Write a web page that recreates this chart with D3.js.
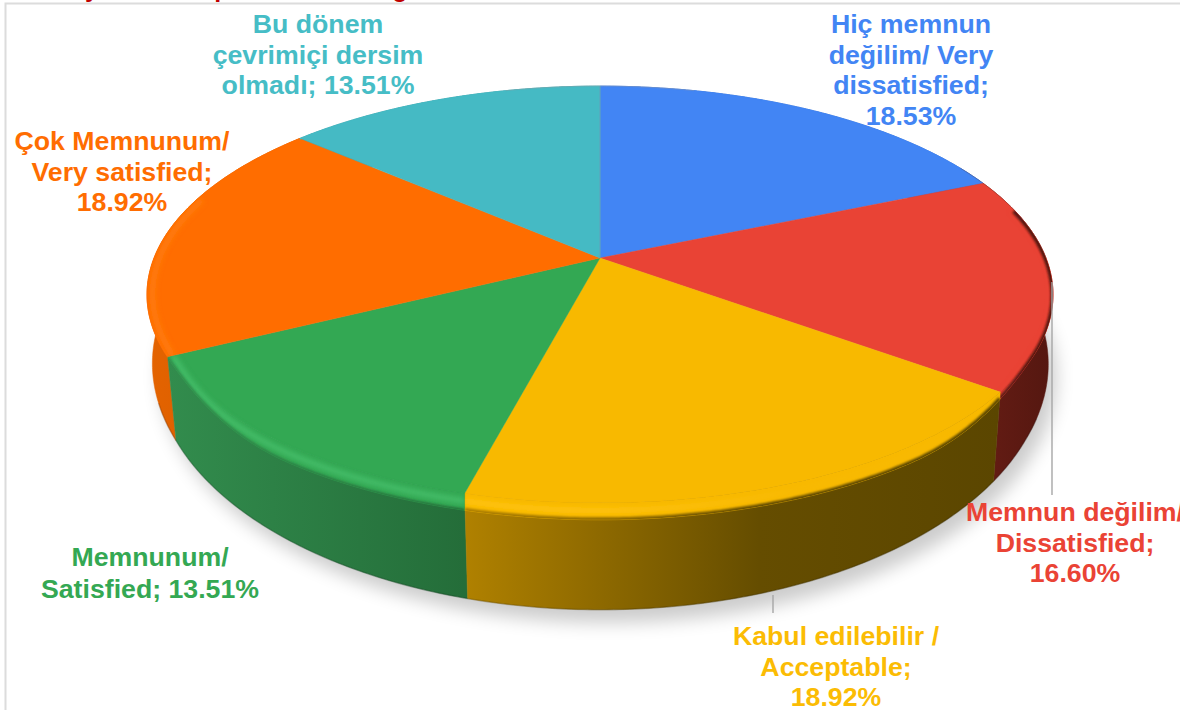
<!DOCTYPE html>
<html><head><meta charset="utf-8">
<script src="https://cdn.jsdelivr.net/npm/d3@7/dist/d3.min.js"></script>
<style>html,body{margin:0;padding:0;background:#fff;overflow:hidden}svg{display:block}text{font-family:"Liberation Sans",Arial,sans-serif;font-weight:700}</style>
</head><body><svg id="c" width="1180" height="710"></svg>
<script>
const categories = ["Hiç memnun değilim/ Very dissatisfied","Memnun değilim/ Dissatisfied","Kabul edilebilir / Acceptable","Memnunum/ Satisfied","Çok Memnunum/ Very satisfied","Bu dönem çevrimiçi dersim olmadı"];
const values = [18.53,16.60,18.92,13.51,18.92,13.51];
const topColors = ["#4285f4","#e94335","#f8b900","#33a853","#ff6d00","#45bac4"];
const textColors = ["#4285f4","#ea4335","#fbbc04","#34a853","#ff6d01","#46bdc6"];
const sideLeft = ["#2f5fae","#651c14","#b08100","#328c4d","#e46300","#318389"];
const sideRight = ["#2f5fae","#541710","#5b4600","#246d39","#d05a00","#318389"];
const rimLight = ["#4285f4","#e94335","#ffc30e","#44bd69","#ff7c0c","#45bac4"];
const labelLines = [
 ["Hiç memnun","değilim/ Very","dissatisfied;","18.53%"],
 ["Memnun değilim/","Dissatisfied;","16.60%"],
 ["Kabul edilebilir /","Acceptable;","18.92%"],
 ["Memnunum/","Satisfied; 13.51%"],
 ["Çok Memnunum/","Very satisfied;","18.92%"],
 ["Bu dönem","çevrimiçi dersim","olmadı; 13.51%"]
];
const labelX = [911,1075,836,150,122,318];
const labelY = [33,521,645,566,150,33];
const labelStep = [30.6,30.6,30.6,31.6,30.6,30.6];
const titleGlyphs = ["y","p","g"];
const titleX = [92,222,400];

const svg = d3.select("#c");
const defs = svg.append("defs");
const pie = d3.pie().sort(null).value(d=>d)(values);

const cx=600, cy=258, A=446, B=202, k=0.175;
const smooth=(a,b,v)=>{const t=Math.min(1,Math.max(0,(v-a)/(b-a)));return t*t*(3-2*t);};
function project(theta,r,z,f){
  const X=r*Math.sin(theta), Y=-r*Math.cos(theta), w=1-k*Y;
  let sx=cx+A*X/w, sy=cy+B*Y/w;
  if(z){
    sy+=z*70/Math.pow(w,2.2);
    const lean=0.4+0.6*Math.min(1,Math.max(0,Y)/0.45);
    sx+=(630-sx)*0.018*z*lean;
  }
  if(f){ sy+=f*(1+16*smooth(0.45,0.8,Y)); }
  return [sx,sy];
}
const line=d3.line();
const samples=(a,b)=>{const n=Math.max(8,Math.ceil((b-a)/0.01));return d3.range(n+1).map(i=>a+(b-a)*i/n);};
const arcPts=(a,b,r,z,f)=>samples(a,b).map(t=>project(t,r,z,f));

const blur=(id,s)=>defs.append("filter").attr("id",id).attr("filterUnits","userSpaceOnUse").attr("x",0).attr("y",0).attr("width",1180).attr("height",710).append("feGaussianBlur").attr("stdDeviation",s);
blur("bShadow",9); blur("bRim",2.4); blur("bEdge",1.3);

// chart frame
svg.append("rect").attr("x",5.5).attr("y",3.5).attr("width",1300).attr("height",800).attr("fill","none").attr("stroke","#dcdcdc").attr("stroke-width",2);

// clipped title remnants
svg.selectAll("text.title").data(titleGlyphs).join("text").attr("class","title")
 .attr("x",(d,i)=>titleX[i]).attr("y",-3).attr("text-anchor","middle").attr("font-size",25).attr("fill","#c00000").text(d=>d);

// shadow
svg.append("path").attr("d",line(arcPts(0,2*Math.PI,1,1))+"Z").attr("fill","#000").attr("opacity",0.2)
 .attr("transform","translate(8,13)").attr("filter","url(#bShadow)");

// sides
pie.forEach((s,i)=>{
  const g=defs.append("linearGradient").attr("id","side"+i).attr("gradientUnits","userSpaceOnUse");
  const xs=arcPts(s.startAngle,s.endAngle,1,0).map(p=>p[0]);
  g.attr("x1",d3.min(xs)).attr("x2",d3.max(xs)).attr("y1",0).attr("y2",0);
  g.append("stop").attr("offset",0).attr("stop-color",sideLeft[i]);
  if(i===2) g.append("stop").attr("offset",0.55).attr("stop-color","#654d00");
  g.append("stop").attr("offset",1).attr("stop-color",sideRight[i]);
});
const order=[0,5,4,1,3,2];
order.forEach(i=>{
  const s=pie[i];
  const pts=arcPts(s.startAngle,s.endAngle,1,0).concat(arcPts(s.startAngle,s.endAngle,1,1).reverse());
  svg.append("path").attr("d",line(pts)+"Z").attr("fill",`url(#side${i})`).attr("stroke",`url(#side${i})`).attr("stroke-width",0.5);
});
// darker lip along the bottom edge
svg.append("path").attr("d",line(arcPts(Math.PI*0.62,Math.PI*1.4,1,1))).attr("fill","none").attr("stroke","#000").attr("stroke-width",1.6).attr("opacity",0.15);

// top faces with their rounded front band
pie.forEach((s,i)=>{
  const face=line([project(0,0,0)].concat(arcPts(s.startAngle,s.endAngle,1,0)))+"Z";
  const band=line(arcPts(s.startAngle,s.endAngle,1,0,0).concat(arcPts(s.startAngle,s.endAngle,1,0,1).reverse()))+"Z";
  const clip=defs.append("clipPath").attr("id","clip"+i);
  clip.append("path").attr("d",face); clip.append("path").attr("d",band);
  svg.append("path").attr("d",face).attr("fill",topColors[i]).attr("stroke",topColors[i]).attr("stroke-width",0.4);
  svg.append("path").attr("d",band).attr("fill",topColors[i]).attr("stroke",topColors[i]).attr("stroke-width",0.4);
});

// bevel: highlight band plus soft blend into the side colour
const fade=defs.append("linearGradient").attr("id","fade").attr("gradientUnits","userSpaceOnUse").attr("x1",150).attr("x2",1050).attr("y1",0).attr("y2",0);
[[0,1],[0.5,1],[0.72,0.1],[1,0]].forEach(([o,a])=>fade.append("stop").attr("offset",o).attr("stop-color","#fff").attr("stop-opacity",a));
defs.append("mask").attr("id","fadeMask").attr("maskUnits","userSpaceOnUse").attr("x",0).attr("y",0).attr("width",1180).attr("height",710)
  .append("rect").attr("width",1180).attr("height",710).attr("fill","url(#fade)");
pie.forEach((s,i)=>{
  const from=Math.max(s.startAngle,Math.PI*0.42), to=Math.min(s.endAngle,Math.PI*1.6);
  if(to<=from) return;
  const g=svg.append("g").attr("clip-path",`url(#clip${i})`);
  const hi=samples(from,to).map(t=>{const Y=-Math.cos(t);const inset=1-0.012*(1-smooth(0.4,0.7,Y));return project(t,inset,0,0.45);});
  g.append("g").attr("mask","url(#fadeMask)").append("path").attr("d",line(hi))
   .attr("fill","none").attr("stroke",rimLight[i]).attr("stroke-width",5.5).attr("filter","url(#bRim)");
  if(i!==4) g.append("path").attr("d",line(arcPts(from,to,1,0,1)))
   .attr("fill","none").attr("stroke",`url(#side${i})`).attr("stroke-width",i===2||i===1?5:3).attr("filter","url(#bEdge)");
});
// thin dark silhouette on the far right, and seam between last and first slices
const e0=Math.PI*0.34, e1=Math.PI*0.5;
svg.append("path").attr("d",line(arcPts(e0,e1,1,0))).attr("fill","none").attr("stroke","#5a3a36").attr("stroke-width",0.9).attr("opacity",0.35);
svg.append("path").attr("d",line(arcPts(-0.25,0.25,1,0))).attr("fill","none").attr("stroke","#9a9aa0").attr("stroke-width",0.8).attr("opacity",0.45);
svg.append("path").attr("d",line([project(0,0,0),project(0,1,0)])).attr("fill","none").attr("stroke","#63a0bb").attr("stroke-width",1);

// leader lines
const leaders=[[[1052,282],[1052,495]],[[773,595],[773,613]]];
leaders.forEach(p=>svg.append("path").attr("d",line(p)).attr("fill","none").attr("stroke","#a6a6a6").attr("stroke-width",1.4));

// labels
labelLines.forEach((lines,i)=>{
  const t=svg.append("text").attr("text-anchor","middle").attr("font-size",26.7).attr("fill",textColors[i]);
  lines.forEach((l,j)=>t.append("tspan").attr("x",labelX[i]).attr("y",labelY[i]+j*labelStep[i]).text(l));
});
</script></body></html>
